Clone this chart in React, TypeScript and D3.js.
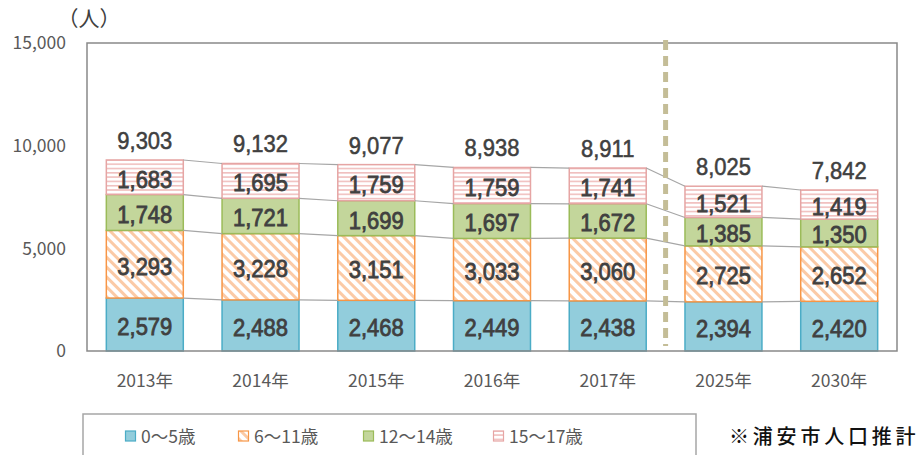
import React from "react";
import * as d3 from "d3";

const categories = ["2013年", "2014年", "2015年", "2016年", "2017年", "2025年", "2030年"];
const age0to5 = [2579, 2488, 2468, 2449, 2438, 2394, 2420];
const age6to11 = [3293, 3228, 3151, 3033, 3060, 2725, 2652];
const age12to14 = [1748, 1721, 1699, 1697, 1672, 1385, 1350];
const age15to17 = [1683, 1695, 1759, 1759, 1741, 1521, 1419];
const totals = [9303, 9132, 9077, 8938, 8911, 8025, 7842];
const seriesNames = ["0～5歳", "6～11歳", "12～14歳", "15～17歳"];
const yTicks = [0, 5000, 10000, 15000];
const yUnit = "（人）";
const note = "※浦安市人口推計";

const W = 918;
const H = 455;
const left = 87;
const right = 897;
const top = 43;
const bottom = 351;

const seriesStyle = [
  { fill: "#92cddc", stroke: "#4bacc6" },
  { fill: "url(#hatchOrange)", stroke: "#f79646" },
  { fill: "#c3d69b", stroke: "#9bbb59" },
  { fill: "url(#stripePink)", stroke: "#e6a5a4" },
];

const FONT = "'Noto Sans CJK JP', 'Noto Sans', sans-serif";
const NUMFONT = "'Liberation Sans', Arial, sans-serif";
const fmt = d3.format(",");

function Num({ cx, cy, v, sw }: { cx: number; cy: number; v: number; sw: number }) {
  return (
    <text
      transform={`translate(${cx},${cy}) scale(1,1.12)`}
      dy="0.36em"
      fontFamily={NUMFONT}
      fontSize={22}
      fontWeight={400}
      fill="#404040"
      stroke="#404040"
      strokeWidth={sw}
      textAnchor="middle"
    >
      {fmt(v)}
    </text>
  );
}

export default function App() {
  const series = [age0to5, age6to11, age12to14, age15to17];
  const x = d3.scaleBand<string>().domain(categories).range([left, right]).paddingInner(0.335).paddingOuter(0.167);
  const y = d3.scaleLinear().domain([0, 15000]).range([bottom, top]);
  const bw = x.bandwidth();

  const stacks = categories.map((_, i) => {
    let acc = 0;
    return series.map((s) => {
      const y0 = acc;
      acc += s[i];
      return { y0, y1: acc, v: s[i] };
    });
  });

  const dashX = ((x(categories[4]) as number) + bw + (x(categories[5]) as number)) / 2;

  const legendX = [125, 238, 363, 493];

  return (
    <svg width={W} height={H} style={{ position: "absolute", left: 0, top: 0, background: "#fff" }} fontFamily={FONT}>
      <defs>
        <pattern id="hatchOrange" patternUnits="userSpaceOnUse" width="7" height="7" patternTransform="rotate(45)">
          <rect width="7" height="7" fill="#fff" />
          <rect width="7" height="3" fill="#fbcaa6" />
        </pattern>
        <pattern id="stripePink" patternUnits="userSpaceOnUse" width="4.3" height="4.3">
          <rect width="4.3" height="4.3" fill="#fff" />
          <rect y="0" width="4.3" height="1.6" fill="#f0bfbe" />
        </pattern>
      </defs>
      <rect x={0} y={0} width={W} height={H} fill="#fff" />

      {/* unit label */}
      <text x={89} y={18} dy="0.36em" fontSize={21} fill="#404040" textAnchor="middle">{yUnit}</text>

      {/* y tick labels */}
      {yTicks.map((t) => (
        <text key={t} x={66} y={y(t)} dy="0.36em" fontSize={17.5} fill="#595959" textAnchor="end">{fmt(t)}</text>
      ))}

      {/* bars */}
      {stacks.map((st, i) =>
        st.map((seg, j) => (
          <rect
            key={`${i}-${j}`}
            x={x(categories[i])}
            y={y(seg.y1)}
            width={bw}
            height={y(seg.y0) - y(seg.y1)}
            fill={seriesStyle[j].fill}
            stroke={seriesStyle[j].stroke}
            strokeWidth={1.5}
          />
        ))
      )}

      {/* series lines */}
      {series.map((_, j) =>
        categories.slice(0, -1).map((c, i) => (
          <line
            key={`sl-${j}-${i}`}
            x1={(x(c) as number) + bw}
            y1={y(stacks[i][j].y1)}
            x2={x(categories[i + 1]) as number}
            y2={y(stacks[i + 1][j].y1)}
            stroke="#a6a6a6"
            strokeWidth={1.2}
          />
        ))
      )}

      {/* frame */}
      <rect x={left} y={top} width={right - left} height={bottom - top} fill="none" stroke="#898989" strokeWidth={1.5} />

      {/* dashed divider */}
      <line x1={dashX} x2={dashX} y1={40} y2={346} stroke="#c4bd97" strokeWidth={5} strokeDasharray="10 6" />

      {/* segment labels */}
      {stacks.map((st, i) =>
        st.map((seg, j) => (
          <Num key={`l-${i}-${j}`} cx={(x(categories[i]) as number) + bw / 2} cy={(y(seg.y0) + y(seg.y1)) / 2 + 1.5} v={seg.v} sw={0.75} />
        ))
      )}

      {/* totals */}
      {totals.map((t, i) => (
        <Num key={`t-${i}`} cx={(x(categories[i]) as number) + bw / 2} cy={y(t) - 20} v={t} sw={0.5} />
      ))}

      {/* x labels */}
      {categories.map((c) => (
        <text key={c} x={(x(c) as number) + bw / 2} y={381} dy="0.36em" fontSize={17.5} fill="#595959" textAnchor="middle">{c}</text>
      ))}

      {/* legend */}
      <rect x={83} y={414} width={613} height={50} fill="none" stroke="#a6a6a6" strokeWidth={1.5} />
      {seriesNames.map((n, j) => (
        <g key={n}>
          <rect x={legendX[j] + 0.5} y={431} width={10} height={10} fill={seriesStyle[j].fill} stroke={seriesStyle[j].stroke} strokeWidth={1.2} />
          <text x={legendX[j] + 16} y={436.5} dy="0.36em" fontSize={17.5} fill="#595959">{n}</text>
        </g>
      ))}

      {/* note */}
      <text x={729} y={437} dy="0.36em" fontSize={20} fontWeight={500} letterSpacing={3.8} fill="#111">{note}</text>
    </svg>
  );
}
